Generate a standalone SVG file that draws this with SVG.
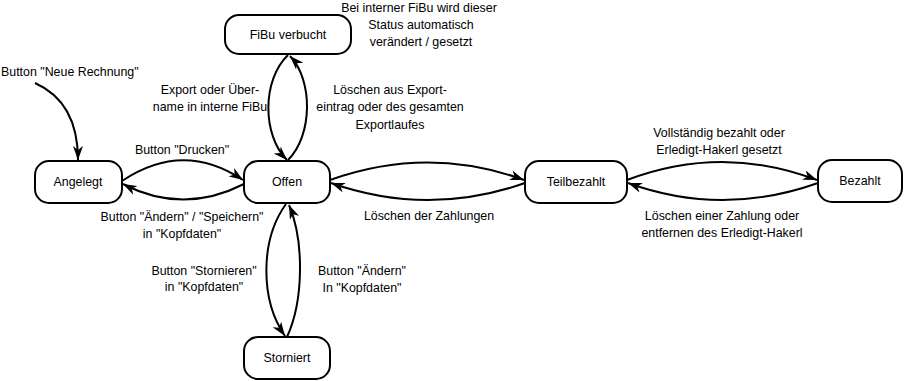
<svg xmlns="http://www.w3.org/2000/svg" width="907" height="381" viewBox="0 0 907 381">
<style>
  .node rect { fill: #ffffff; stroke: #000000; stroke-width: 2; }
  text { font-family: "Liberation Sans", Arial, sans-serif; font-size: 12.4px; fill: #000000; }
  .c { text-anchor: middle; }
  .edge { fill: none; stroke: #000000; stroke-width: 2; marker-end: url(#arrow); }
</style>
<defs>
  <marker id="arrow" markerUnits="userSpaceOnUse" viewBox="0 0 14 10" refX="14" refY="5" markerWidth="14" markerHeight="10" orient="auto">
    <path d="M0,0 L14,5 L0,10 L4,5 z" fill="#000000"/>
  </marker>
</defs>
<rect x="0" y="0" width="907" height="381" fill="#ffffff"/>

<g id="nodes">
  <g id="fibu" class="node"><rect x="225" y="15" width="126" height="39" rx="14" ry="14"/><text class="c" x="288" y="39">FiBu verbucht</text></g>
  <g id="angelegt" class="node"><rect x="35" y="161" width="87" height="42" rx="14" ry="14"/><text class="c" x="78" y="186">Angelegt</text></g>
  <g id="offen" class="node"><rect x="244" y="161" width="86" height="42" rx="14" ry="14"/><text class="c" x="287" y="186">Offen</text></g>
  <g id="teilbezahlt" class="node"><rect x="525" y="161" width="102" height="42" rx="14" ry="14"/><text class="c" x="576" y="186">Teilbezahlt</text></g>
  <g id="bezahlt" class="node"><rect x="818" y="160" width="84" height="42" rx="14" ry="14"/><text class="c" x="860" y="185">Bezahlt</text></g>
  <g id="storniert" class="node"><rect x="244" y="337" width="86" height="42" rx="14" ry="14"/><text class="c" x="287" y="362">Storniert</text></g>
</g>

<g id="connectors">
  <path class="edge" d="M35,83 C62,95 78,120 78,160"/>
  <path class="edge" d="M122,181 Q183,140 243,180"/>
  <path class="edge" d="M244,184 Q183,215 123,184"/>
  <path class="edge" d="M330,180 Q428,145 524,180"/>
  <path class="edge" d="M525,183 Q428,217 331,183"/>
  <path class="edge" d="M627,180 Q722,144 817,180"/>
  <path class="edge" d="M818,183 Q722,217 628,183"/>
  <path class="edge" d="M288,55 C262,80 262,135 287,160"/>
  <path class="edge" d="M288,160 C313,135 313,80 290,56"/>
  <path class="edge" d="M286,204 C260,240 260,300 285,336"/>
  <path class="edge" d="M287,337 C304,300 304,240 289,205"/>
</g>

<g id="labels">
  <text x="1" y="76">Button "Neue Rechnung"</text>
  <text class="c" x="419" y="12">Bei interner FiBu wird dieser</text>
  <text class="c" x="421" y="29">Status automatisch</text>
  <text class="c" x="421" y="46">verändert / gesetzt</text>
  <text class="c" x="210" y="94">Export oder Über-</text>
  <text class="c" x="210" y="111">name in interne FiBu</text>
  <text class="c" x="390" y="94">Löschen aus Export-</text>
  <text class="c" x="390" y="111">eintrag oder des gesamten</text>
  <text class="c" x="390" y="129">Exportlaufes</text>
  <text class="c" x="182" y="154">Button "Drucken"</text>
  <text class="c" x="182" y="221">Button "Ändern" / "Speichern"</text>
  <text class="c" x="182" y="238">in "Kopfdaten"</text>
  <text class="c" x="429" y="220">Löschen der Zahlungen</text>
  <text class="c" x="719" y="137">Vollständig bezahlt oder</text>
  <text class="c" x="719" y="154">Erledigt-Hakerl gesetzt</text>
  <text class="c" x="722" y="220">Löschen einer Zahlung oder</text>
  <text class="c" x="722" y="237">entfernen des Erledigt-Hakerl</text>
  <text class="c" x="204" y="275">Button "Stornieren"</text>
  <text class="c" x="204" y="291">in "Kopfdaten"</text>
  <text class="c" x="362" y="275">Button "Ändern"</text>
  <text class="c" x="362" y="292">In "Kopfdaten"</text>
</g>
</svg>
